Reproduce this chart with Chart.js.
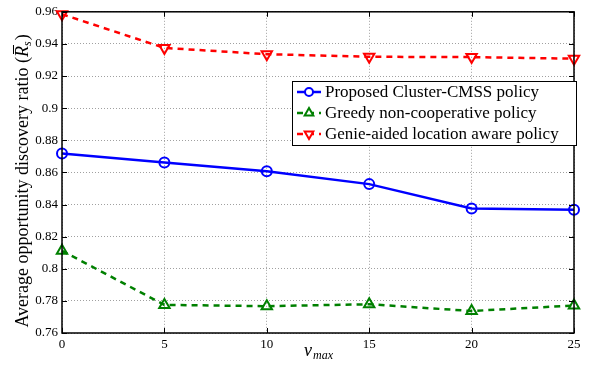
<!DOCTYPE html>
<html>
<head>
<meta charset="utf-8">
<script src="https://cdn.jsdelivr.net/npm/chart.js@4"></script>
<style>
  html, body { margin: 0; padding: 0; background: #fff; }
  #wrap { width: 595px; height: 369px; }
</style>
</head>
<body>
<div id="wrap"><canvas id="chart" width="595" height="369"></canvas></div>
<script>
// data
const vmax = [0, 5, 10, 15, 20, 25];
const proposed = [0.8717, 0.8662, 0.8607, 0.8527, 0.8375, 0.8368];
const greedy = [0.8112, 0.7775, 0.7767, 0.7779, 0.7737, 0.7771];
const genie = [0.9585, 0.9375, 0.9336, 0.9320, 0.9318, 0.9308];
const xTicks = [0, 5, 10, 15, 20, 25];
const yTicks = [0.76, 0.78, 0.8, 0.82, 0.84, 0.86, 0.88, 0.9, 0.92, 0.94, 0.96];
const seriesNames = ['Proposed Cluster-CMSS policy', 'Greedy non-cooperative policy', 'Genie-aided location aware policy'];

const FONT = 'Liberation Serif';

// MATLAB style inward ticks on all four sides
const boxTicks = {
    id: 'boxTicks',
    afterDraw(chart) {
        const ctx = chart.ctx;
        const a = chart.chartArea;
        const xs = chart.scales.x, ys = chart.scales.y;
        ctx.save();
        ctx.strokeStyle = '#000';
        ctx.lineWidth = 1;
        ctx.beginPath();
        xTicks.forEach(v => {
            const px = Math.round(xs.getPixelForValue(v)) + 0.5;
            ctx.moveTo(px, a.bottom); ctx.lineTo(px, a.bottom - 5);
            ctx.moveTo(px, a.top); ctx.lineTo(px, a.top + 5);
        });
        yTicks.forEach(v => {
            const py = Math.round(ys.getPixelForValue(v)) + 0.5;
            ctx.moveTo(a.left, py); ctx.lineTo(a.left + 5, py);
            ctx.moveTo(a.right, py); ctx.lineTo(a.right - 5, py);
        });
        ctx.stroke();
        ctx.lineWidth = 1.5;
        ctx.strokeRect(a.left, a.top, a.right - a.left, a.bottom - a.top);
        ctx.restore();
    }
};

// axis titles with italic math parts
const axisTitles = {
    id: 'axisTitles',
    afterDraw(chart) {
        const ctx = chart.ctx;
        const a = chart.chartArea;
        ctx.save();
        ctx.fillStyle = '#000';
        ctx.textBaseline = 'alphabetic';

        // x title: v_max
        const big = 'italic 18px ' + FONT, small = 'italic 12px ' + FONT;
        ctx.font = big; const wv = ctx.measureText('v').width;
        ctx.font = small; const wm = ctx.measureText('max').width;
        let x = (a.left + a.right) / 2 - (wv + wm) / 2;
        ctx.font = big; ctx.fillText('v', x, 356);
        ctx.font = small; ctx.fillText('max', x + wv + 1, 359);

        // y title, rotated
        const main = '18px ' + FONT;
        const t1 = 'Average opportunity discovery ratio (';
        ctx.font = main; const w1 = ctx.measureText(t1).width;
        const wp = ctx.measureText(')').width;
        ctx.font = big; const wr = ctx.measureText('R').width;
        ctx.font = small; const ws = ctx.measureText('s').width;
        const total = w1 + wr + ws + 1 + wp;
        ctx.translate(28, 181);
        ctx.rotate(-Math.PI / 2);
        x = -total / 2;
        ctx.font = main; ctx.fillText(t1, x, 0);
        x += w1;
        ctx.font = big; ctx.fillText('R', x, 0);
        ctx.lineWidth = 1;
        ctx.strokeStyle = '#000';
        ctx.beginPath(); ctx.moveTo(x + 3, -14.5); ctx.lineTo(x + wr + 1, -14.5); ctx.stroke();
        x += wr;
        ctx.font = small; ctx.fillText('s', x, 3);
        x += ws + 1;
        ctx.font = main; ctx.fillText(')', x, 0);
        ctx.restore();
    }
};

// legend box inside the plot, top right
const boxLegend = {
    id: 'boxLegend',
    afterDraw(chart) {
        const ctx = chart.ctx;
        const x0 = 292, y0 = 81, w = 284, h = 64;
        ctx.save();
        ctx.fillStyle = '#fff';
        ctx.fillRect(x0, y0, w, h);
        ctx.strokeStyle = '#000';
        ctx.lineWidth = 1;
        ctx.strokeRect(x0 + 0.5, y0 + 0.5, w, h);
        chart.data.datasets.forEach((ds, i) => {
            const cy = y0 + 11 + i * 21;
            ctx.strokeStyle = ds.borderColor;
            ctx.lineWidth = ds.borderWidth;
            ctx.setLineDash(ds.borderDash || []);
            ctx.beginPath();
            ctx.moveTo(x0 + 5, cy);
            ctx.lineTo(x0 + 29, cy);
            ctx.stroke();
            ctx.setLineDash([]);
            ctx.lineWidth = ds.pointBorderWidth;
            ctx.fillStyle = '#fff';
            Chart.helpers.drawPoint(ctx, {
                pointStyle: ds.pointStyle,
                rotation: ds.pointRotation || 0,
                radius: ds.pointRadius - 1,
                borderWidth: ds.pointBorderWidth
            }, x0 + 17, cy);
            ctx.fillStyle = '#000';
            ctx.font = '17px ' + FONT;
            ctx.textBaseline = 'middle';
            ctx.fillText(ds.label, x0 + 33, cy + 1);
        });
        ctx.restore();
    }
};

new Chart(document.getElementById('chart').getContext('2d'), {
    type: 'line',
    data: {
        labels: vmax,
        datasets: [
            {
                label: seriesNames[0],
                data: proposed,
                borderColor: '#0000ff',
                backgroundColor: '#ffffff',
                borderWidth: 2.5,
                pointStyle: 'circle',
                pointRadius: 5,
                pointBorderWidth: 2,
                pointBackgroundColor: 'rgba(0,0,0,0)',
                pointBorderColor: '#0000ff'
            },
            {
                label: seriesNames[1],
                data: greedy,
                borderColor: '#008000',
                backgroundColor: '#ffffff',
                borderWidth: 2.5,
                borderDash: [6, 5],
                pointStyle: 'triangle',
                pointRadius: 6,
                pointBorderWidth: 2,
                pointBackgroundColor: 'rgba(0,0,0,0)',
                pointBorderColor: '#008000'
            },
            {
                label: seriesNames[2],
                data: genie,
                borderColor: '#ff0000',
                backgroundColor: '#ffffff',
                borderWidth: 2.5,
                borderDash: [6, 5],
                pointStyle: 'triangle',
                pointRotation: 180,
                pointRadius: 6,
                pointBorderWidth: 2,
                pointBackgroundColor: 'rgba(0,0,0,0)',
                pointBorderColor: '#ff0000'
            }
        ]
    },
    options: {
        responsive: false,
        animation: false,
        clip: false,
        layout: { padding: { top: 7, right: 21, left: 0, bottom: 0 } },
        plugins: {
            legend: { display: false },
            tooltip: { enabled: false }
        },
        scales: {
            x: {
                type: 'linear',
                min: 0,
                max: 25,
                afterBuildTicks: s => { s.ticks = xTicks.map(v => ({ value: v })); },
                afterFit: s => { s.height = 36; },
                grid: { color: '#a0a0a0', drawTicks: false },
                border: { display: false, dash: [1, 2] },
                ticks: { color: '#000', font: { family: FONT, size: 13 }, padding: 4, maxRotation: 0 },
                title: { display: false }
            },
            y: {
                min: 0.76,
                max: 0.96,
                afterBuildTicks: s => { s.ticks = yTicks.map(v => ({ value: v })); },
                afterFit: s => { s.width = 62; },
                grid: { color: '#a0a0a0', drawTicks: false },
                border: { display: false, dash: [1, 2] },
                ticks: {
                    color: '#000',
                    font: { family: FONT, size: 13 },
                    padding: 4,
                    callback: v => String(Number(v.toFixed(2)))
                },
                title: { display: false }
            }
        }
    },
    plugins: [boxTicks, axisTitles, boxLegend]
});
</script>
</body>
</html>
